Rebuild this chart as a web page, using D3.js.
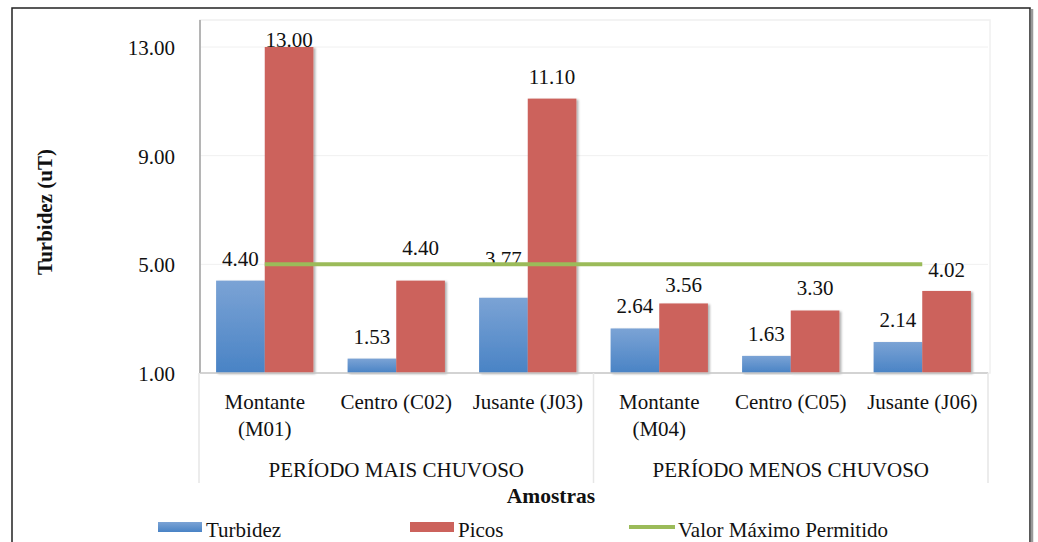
<!DOCTYPE html>
<html>
<head>
<meta charset="utf-8">
<script src="https://cdn.jsdelivr.net/npm/d3@7"></script>
<style>
  body { margin: 0; background: #fff; }
  text { font-family: "Liberation Serif", "Times New Roman", serif; fill: #111; }
</style>
</head>
<body>
<div id="chart-area"></div>
<script>

// data
var categories = ["Montante (M01)", "Centro (C02)", "Jusante (J03)",
                  "Montante (M04)", "Centro (C05)", "Jusante (J06)"];
var periods = ["PERÍODO MAIS CHUVOSO", "PERÍODO MENOS CHUVOSO"];
var turbidez = [4.40, 1.53, 3.77, 2.64, 1.63, 2.14];
var picos = [13.00, 4.40, 11.10, 3.56, 3.30, 4.02];
var valorMaximo = 5.00;
var yTicks = [1, 5, 9, 13];
var seriesNames = ["Turbidez", "Picos", "Valor Máximo Permitido"];

// label nudges (px above bar top) where the original labels were moved
var labelGap = {
	"Turbidez": [15, 15, 32, 15, 15, 15],
	"Picos": [0, 26, 15, 11, 16, 14]
};

var width = 1038,
	height = 542;

var plot = {left: 200, right: 988, top: 20, bottom: 373};

var svg = d3.select("#chart-area")
	.append("svg")
	.attr("width", width)
	.attr("height", height);

var defs = svg.append("defs");
var grad = defs.append("linearGradient")
	.attr("id", "blueGrad")
	.attr("x1", 0).attr("y1", 0).attr("x2", 0).attr("y2", 1);
grad.append("stop").attr("offset", "0%").attr("stop-color", "#7ba3d5");
grad.append("stop").attr("offset", "100%").attr("stop-color", "#4983c5");

defs.append("filter").attr("id", "shadow")
	.attr("x", "-20%").attr("y", "-10%").attr("width", "150%").attr("height", "120%")
	.append("feDropShadow")
	.attr("dx", 2).attr("dy", 1).attr("stdDeviation", 1.2)
	.attr("flood-color", "#000").attr("flood-opacity", 0.3);

// outer frame
svg.append("rect")
	.attr("x", 12).attr("y", 8)
	.attr("width", 1018).attr("height", 560)
	.attr("fill", "none").attr("stroke", "#222").attr("stroke-width", 1.5);
svg.append("line")
	.attr("x1", 1032).attr("x2", 1032).attr("y1", 9).attr("y2", 542)
	.attr("stroke", "#999").attr("stroke-width", 2.5);

// scales
var x = d3.scaleBand()
	.domain(categories)
	.range([plot.left - 1, plot.right])
	.paddingInner(0.26)
	.paddingOuter(0.13);

var xInner = d3.scaleBand()
	.domain(["Turbidez", "Picos"])
	.range([0, x.bandwidth()]);

var y = d3.scaleLinear()
	.domain([1, 13])
	.range([plot.bottom, 47]);

var color = d3.scaleOrdinal()
	.domain(seriesNames)
	.range(["url(#blueGrad)", "#cc625c", "#9bbb59"]);

// faint plot frame and gridlines
svg.append("rect")
	.attr("x", plot.left).attr("y", plot.top)
	.attr("width", plot.right + 2 - plot.left).attr("height", plot.bottom - plot.top)
	.attr("fill", "none").attr("stroke", "#f0f0f0").attr("stroke-width", 1.5);

svg.append("g")
	.selectAll("line")
	.data(yTicks.slice(1))
	.enter()
	.append("line")
	.attr("x1", plot.left).attr("x2", plot.right)
	.attr("y1", function (d) {return y(d)})
	.attr("y2", function (d) {return y(d)})
	.attr("stroke", "#f0f0f0").attr("stroke-width", 1);

// y axis
var yAxis = d3.axisLeft(y)
	.tickValues(yTicks)
	.tickSize(0)
	.tickPadding(25)
	.tickFormat(d3.format(".2f"));

var yg = svg.append("g")
	.attr("transform", "translate(" + plot.left + ",0)")
	.call(yAxis);
yg.select(".domain").remove();
yg.selectAll("text")
	.attr("font-family", "Liberation Serif")
	.attr("font-size", 21)
	.attr("fill", "#111")
	.attr("dy", "0.35em");

svg.append("line")
	.attr("x1", plot.left).attr("x2", plot.left)
	.attr("y1", plot.top).attr("y2", plot.bottom)
	.attr("stroke", "#a0a0a0").attr("stroke-width", 1.5);

// bars
var rows = categories.map(function (c, i) {
	return {cat: c, i: i, values: [
		{name: "Turbidez", value: turbidez[i]},
		{name: "Picos", value: picos[i]}
	]};
});

var groups = svg.append("g")
	.selectAll("g")
	.data(rows)
	.enter()
	.append("g")
	.attr("transform", function (d) {return "translate(" + x(d.cat) + ",0)"});

groups.selectAll("rect")
	.data(function (d) {return d.values})
	.enter()
	.append("rect")
	.attr("x", function (d) {return xInner(d.name)})
	.attr("y", function (d) {return y(d.value)})
	.attr("width", xInner.bandwidth())
	.attr("height", function (d) {return y(1) - y(d.value)})
	.attr("fill", function (d) {return color(d.name)})
	.attr("filter", "url(#shadow)");

// baseline
svg.append("line")
	.attr("x1", plot.left).attr("x2", plot.right)
	.attr("y1", plot.bottom).attr("y2", plot.bottom)
	.attr("stroke", "#c8c8c8").attr("stroke-width", 1.5);

// limit line
svg.append("line")
	.attr("x1", x(categories[0]) + x.bandwidth() / 2)
	.attr("x2", x(categories[5]) + x.bandwidth() / 2)
	.attr("y1", y(valorMaximo))
	.attr("y2", y(valorMaximo))
	.attr("stroke", color(seriesNames[2]))
	.attr("stroke-width", 4);

// value labels
groups.selectAll("text.val")
	.data(function (d) {
		return d.values.map(function (v) {return {name: v.name, value: v.value, i: d.i}});
	})
	.enter()
	.append("text")
	.attr("class", "val")
	.attr("x", function (d) {return xInner(d.name) + xInner.bandwidth() / 2})
	.attr("y", function (d) {return y(d.value) - labelGap[d.name][d.i]})
	.attr("text-anchor", "middle")
	.attr("font-size", 21)
	.text(function (d) {return d.value.toFixed(2)});

// x axis (category labels)
var xAxis = d3.axisBottom(x).tickSize(0).tickPadding(21);
var xg = svg.append("g")
	.attr("transform", "translate(0," + plot.bottom + ")")
	.call(xAxis);
xg.select(".domain").remove();
xg.selectAll("text")
	.attr("font-family", "Liberation Serif")
	.attr("font-size", 21)
	.attr("fill", "#111")
	.call(wrap, x.step());

function wrap(textSel, w) {
	textSel.each(function () {
		var text = d3.select(this),
			words = text.text().split(/\s+/).reverse(),
			word, line = [], lineNumber = 0,
			yy = text.attr("y"), dy = parseFloat(text.attr("dy")),
			tspan = text.text(null).append("tspan").attr("x", 0).attr("y", yy).attr("dy", dy + "em");
		while (word = words.pop()) {
			line.push(word);
			tspan.text(line.join(" "));
			if (tspan.node().getComputedTextLength() > w - 4 && line.length > 1) {
				line.pop();
				tspan.text(line.join(" "));
				line = [word];
				tspan = text.append("tspan").attr("x", 0).attr("y", yy)
					.attr("dy", (++lineNumber * 1.3 + dy) + "em").text(word);
			}
		}
	});
}

// period dividers and labels
var bw = x.bandwidth();
var dividers = [plot.left - 1,
	(x(categories[2]) + bw + x(categories[3])) / 2,
	plot.right];
svg.append("g")
	.selectAll("line")
	.data(dividers)
	.enter()
	.append("line")
	.attr("x1", function (d) {return d}).attr("x2", function (d) {return d})
	.attr("y1", plot.bottom).attr("y2", 483)
	.attr("stroke", "#e6e6e6").attr("stroke-width", 1.5);

svg.append("g")
	.selectAll("text")
	.data(periods)
	.enter()
	.append("text")
	.attr("x", function (d, i) {return (dividers[i] + dividers[i + 1]) / 2})
	.attr("y", 477)
	.attr("text-anchor", "middle")
	.attr("font-size", 21)
	.text(function (d) {return d});

// axis titles
svg.append("text")
	.attr("x", 551).attr("y", 503)
	.attr("text-anchor", "middle")
	.attr("font-size", 21.5)
	.attr("font-weight", "bold")
	.text("Amostras");

svg.append("text")
	.attr("transform", "translate(52,212) rotate(-90)")
	.attr("text-anchor", "middle")
	.attr("font-size", 21)
	.attr("font-weight", "bold")
	.text("Turbidez (uT)");

// legend
var legendX = [158, 410, 629];
var legend = svg.append("g")
	.selectAll("g")
	.data(seriesNames)
	.enter()
	.append("g")
	.attr("transform", function (d, i) {return "translate(" + legendX[i] + ",0)"});

legend.filter(function (d, i) {return i < 2})
	.append("rect")
	.attr("x", 0).attr("y", 522)
	.attr("width", 44).attr("height", 10)
	.attr("fill", function (d) {return color(d)});

legend.filter(function (d, i) {return i == 2})
	.append("line")
	.attr("x1", 0).attr("x2", 46)
	.attr("y1", 527).attr("y2", 527)
	.attr("stroke", function (d) {return color(d)})
	.attr("stroke-width", 4);

legend.append("text")
	.attr("x", function (d, i) {return i < 2 ? 48 : 49})
	.attr("y", 537)
	.attr("font-size", 21)
	.text(function (d) {return d});

</script>
</body>
</html>
